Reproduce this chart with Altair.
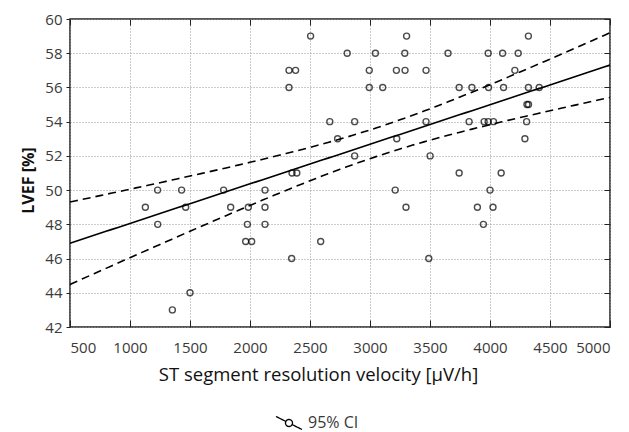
import altair as alt
import numpy as np
import pandas as pd

# ST segment resolution velocity [µV/h] and LVEF [%]
sv = [2505, 3305, 4320,
      2810, 3045, 3290, 3650, 3985, 4105, 4235,
      2325, 2380, 2994, 3220, 3292, 3467, 4207,
      2325, 2994, 3106, 3743, 3849, 3988, 4113, 4320, 4410,
      4308, 4321,
      2665, 2872, 3467, 3826, 3951, 3985, 4029, 4305,
      2730, 3223, 4291,
      2872, 3501,
      2350, 2390, 3743, 4093,
      1230, 1430, 1780, 2125, 3210, 4000,
      1128, 1464, 1839, 1986, 2125, 3300, 3895, 4025,
      1231, 1978, 2125, 3945,
      1964, 2014, 2589,
      2347, 3490,
      1500,
      1353]
lvef = [59, 59, 59,
        58, 58, 58, 58, 58, 58, 58,
        57, 57, 57, 57, 57, 57, 57,
        56, 56, 56, 56, 56, 56, 56, 56, 56,
        55, 55,
        54, 54, 54, 54, 54, 54, 54, 54,
        53, 53, 53,
        52, 52,
        51, 51, 51, 51,
        50, 50, 50, 50, 50, 50,
        49, 49, 49, 49, 49, 49, 49, 49,
        48, 48, 48, 48,
        47, 47, 47,
        46, 46,
        44,
        43]

x_ticks = [500, 1000, 1500, 2000, 2500, 3000, 3500, 4000, 4500, 5000]
y_ticks = [42, 44, 46, 48, 50, 52, 54, 56, 58, 60]
ci_label = "95% CI"

pts = pd.DataFrame({"x": sv, "y": lvef})

# least-squares fit and 95% confidence band of the mean
xa = np.array(sv, float)
ya = np.array(lvef, float)
n = len(xa)
b, a = np.polyfit(xa, ya, 1)
resid = ya - (a + b * xa)
s = np.sqrt((resid ** 2).sum() / (n - 2))
xbar = xa.mean()
sxx = ((xa - xbar) ** 2).sum()
t = 1.995
xg = np.linspace(x_ticks[0], x_ticks[-1], 91)
yh = a + b * xg
half = t * s * np.sqrt(1.0 / n + (xg - xbar) ** 2 / sxx)
fit = pd.DataFrame({"x": xg, "y": yh})
ci = pd.concat([
    pd.DataFrame({"x": xg, "y": yh + half, "side": "upper", "k": ci_label}),
    pd.DataFrame({"x": xg, "y": yh - half, "side": "lower", "k": ci_label}),
])

FONT = "Open Sans"
xs = alt.Scale(domain=[500, 5000], nice=False, zero=False)
ys = alt.Scale(domain=[42, 60], nice=False, zero=False)

axis_common = dict(labelFont=FONT, labelFontSize=15, labelColor="#3a3a3a",
                   titleFont=FONT, titleColor="#111", gridColor="#999",
                   gridDash=[1, 2], gridWidth=1, tickColor="#222", domain=False)

scatter = alt.Chart(pts).mark_point(
    shape="circle", filled=False, color="black", size=36, strokeWidth=1.4
).encode(
    x=alt.X("x:Q", scale=xs, axis=alt.Axis(
        orient="bottom", values=x_ticks, grid=True, tickSize=7, offset=-7,
        labelPadding=13, title="ST segment resolution velocity [µV/h]",
        titleFontSize=18.5, titleFontWeight="normal", titlePadding=10,
        titleX=248, titleAlign="center", titleAnchor="start",
        format="d", **axis_common)),
    y=alt.Y("y:Q", scale=ys, axis=alt.Axis(
        orient="left", values=y_ticks, grid=True, tickSize=4,
        labelPadding=4, title="LVEF [%]", titleFontSize=16,
        titleFontWeight="bold", titlePadding=8, titleY=161,
        titleAlign="center", **axis_common)),
)

frame = alt.Chart(pts).mark_point(opacity=0).encode(
    x=alt.X("x:Q", scale=xs, axis=alt.Axis(
        orient="top", values=x_ticks, grid=False, labels=False, title=None,
        tickSize=6, offset=-6, tickColor="#222", domain=False)),
    y=alt.Y("y:Q", scale=ys, axis=alt.Axis(
        orient="right", values=y_ticks, grid=False, labels=False, title=None,
        tickSize=6, offset=-6, tickColor="#222", domain=False)),
)

fit_line = alt.Chart(fit).mark_line(color="black", strokeWidth=1.6).encode(
    x=alt.X("x:Q", scale=xs, axis=None),
    y=alt.Y("y:Q", scale=ys, axis=None),
)

legend_path = ("M-1,-0.5L-0.24,-0.12M0.24,0.12L1,0.5"
               "M0.27,0A0.27,0.27 0 1 1 -0.27,0A0.27,0.27 0 1 1 0.27,0Z")

ci_lines = alt.Chart(ci).mark_line(strokeWidth=1.6, strokeDash=[8, 5]).encode(
    x=alt.X("x:Q", scale=xs, axis=None),
    y=alt.Y("y:Q", scale=ys, axis=None),
    detail="side:N",
    color=alt.Color("k:N", scale=alt.Scale(domain=[ci_label], range=["black"]),
                    legend=alt.Legend(
                        title=None, orient="none", legendX=205, legendY=390,
                        padding=0, symbolType=legend_path, symbolSize=676,
                        symbolStrokeWidth=1.3, symbolFillColor="white",
                        symbolStrokeColor="black", symbolDash=[1, 0],
                        symbolOffset=0, labelOffset=5,
                        labelFont=FONT, labelFontSize=16, labelColor="#3a3a3a")),
)

chart = alt.layer(scatter, frame, fit_line, ci_lines).resolve_axis(
    x="independent", y="independent"
).properties(
    width=540, height=308,
    padding={"left": 12, "top": 4, "right": 0, "bottom": 0},
).configure_view(
    stroke="#222", strokeWidth=1.5
)

chart.save("out.html", embed_options={"renderer": "svg", "actions": False})
